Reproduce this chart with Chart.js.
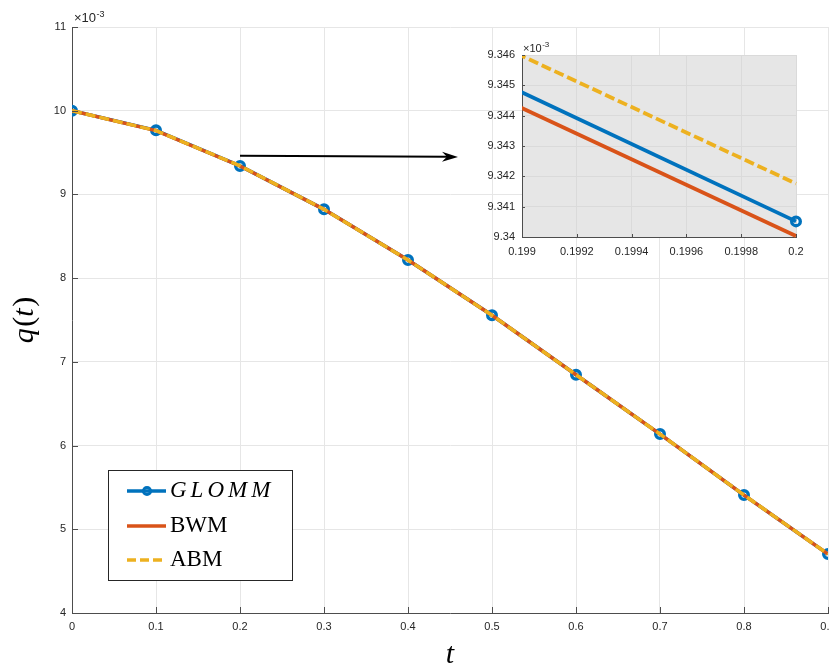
<!DOCTYPE html>
<html>
<head>
<meta charset="utf-8">
<script src="https://cdn.jsdelivr.net/npm/chart.js@4/dist/chart.umd.min.js"></script>
<style>
html,body{margin:0;padding:0;background:#ffffff;}
#wrap{position:relative;width:830px;height:666px;overflow:hidden;}
#main{position:absolute;left:0;top:0;}
#inset{position:absolute;left:470px;top:30px;}
</style>
</head>
<body>
<div id="wrap">
<canvas id="main" width="830" height="666"></canvas>
<canvas id="inset" width="340" height="240"></canvas>
</div>
<script>
// ---- data (values in units of 1e-3) ----
const tValues = [0, 0.1, 0.2, 0.3, 0.4, 0.5, 0.6, 0.7, 0.8, 0.9];
const glommValues = [10.000, 9.7657, 9.340515, 8.822, 8.216, 7.556, 6.846, 6.137, 5.409, 4.704];
const bwmValues   = [10.000, 9.7618, 9.340031, 8.822, 8.216, 7.556, 6.846, 6.137, 5.409, 4.704];
const abmValues   = [10.000, 9.7625, 9.341760, 8.822, 8.216, 7.556, 6.846, 6.137, 5.409, 4.704];
const seriesNames = ['GLOMM', 'BWM', 'ABM'];
const mainXRange = [0, 0.9];
const mainYRange = [4, 11];
const insetXRange = [0.199, 0.2];
const insetYRange = [9.34, 9.346];

const C_BLUE = '#0072BD', C_RED = '#D95319', C_YEL = '#EDB120';
const TICK_FONT = {family: '"Liberation Sans", Arial, Helvetica, sans-serif', size: 11};
const TXT = '#262626';

function pts(ys) { return tValues.map((x, i) => ({x: x, y: ys[i]})); }

function makeDatasets(clip, lw) {
  return [
    {label: seriesNames[0], data: pts(glommValues), borderColor: C_BLUE, borderWidth: lw,
     pointRadius: 4.3, pointBorderWidth: 3.4, pointBorderColor: C_BLUE,
     pointBackgroundColor: 'rgba(0,0,0,0)', order: 3, clip: clip},
    {label: seriesNames[1], data: pts(bwmValues), borderColor: C_RED, borderWidth: lw,
     pointRadius: 0, order: 2, clip: clip},
    {label: seriesNames[2], data: pts(abmValues), borderColor: C_YEL, borderWidth: lw,
     borderDash: [10, 4], pointRadius: 0, order: 1, clip: clip}
  ];
}

function inwardTicks(chart, len, color) {
  const ctx = chart.ctx, xs = chart.scales.x, ys = chart.scales.y, a = chart.chartArea;
  ctx.save();
  ctx.strokeStyle = color; ctx.lineWidth = 1;
  ctx.beginPath();
  xs.ticks.forEach(tk => {
    const px = Math.round(xs.getPixelForValue(tk.value)) + 0.5;
    ctx.moveTo(px, a.bottom); ctx.lineTo(px, a.bottom - len);
  });
  ys.ticks.forEach(tk => {
    const py = Math.round(ys.getPixelForValue(tk.value)) + 0.5;
    ctx.moveTo(a.left, py); ctx.lineTo(a.left + len, py);
  });
  ctx.stroke();
  ctx.restore();
}

function drawExponent(ctx, x, y, big, small) {
  ctx.save();
  ctx.fillStyle = TXT;
  ctx.textAlign = 'left'; ctx.textBaseline = 'alphabetic';
  ctx.font = big + 'px "Liberation Sans", Arial, sans-serif';
  ctx.fillText('\u00d710', x, y);
  const w = ctx.measureText('\u00d710').width;
  ctx.font = small + 'px "Liberation Sans", Arial, sans-serif';
  ctx.fillText('-3', x + w + 0.5, y - big * 0.42);
  ctx.restore();
}

function drawMixed(ctx, parts, cx, cy, rot, size) {
  ctx.save();
  ctx.translate(cx, cy); ctx.rotate(rot);
  ctx.fillStyle = '#000';
  ctx.textAlign = 'left'; ctx.textBaseline = 'alphabetic';
  let total = 0;
  parts.forEach(p => { ctx.font = p.f; p.w = ctx.measureText(p.s).width + (p.gap || 0); total += p.w; });
  let x = -total / 2;
  parts.forEach(p => { ctx.font = p.f; ctx.fillText(p.s, x, size * 0.25); x += p.w; });
  ctx.restore();
}

const SERIF = '"Liberation Serif", "Times New Roman", serif';

const mainDecor = {
  id: 'mainDecor',
  afterDraw(chart) {
    const ctx = chart.ctx, xs = chart.scales.x, ys = chart.scales.y;
    inwardTicks(chart, 6, '#4d4d4d');
    drawExponent(ctx, 74, 22, 13, 9);

    // arrow (annotation pointing to the zoomed inset)
    const ax0 = xs.getPixelForValue(0.2), ay0 = ys.getPixelForValue(9.462);
    const ax1 = xs.getPixelForValue(0.4595), ay1 = ys.getPixelForValue(9.448);
    const ang = Math.atan2(ay1 - ay0, ax1 - ax0);
    ctx.save();
    ctx.strokeStyle = '#000'; ctx.fillStyle = '#000'; ctx.lineWidth = 2;
    ctx.beginPath(); ctx.moveTo(ax0, ay0); ctx.lineTo(ax1 - 10 * Math.cos(ang), ay1 - 10 * Math.sin(ang)); ctx.stroke();
    ctx.translate(ax1, ay1); ctx.rotate(ang);
    ctx.beginPath();
    ctx.moveTo(0, 0); ctx.lineTo(-16, -5); ctx.lineTo(-11, 0); ctx.lineTo(-16, 5); ctx.closePath();
    ctx.fill();
    ctx.restore();

    // legend
    ctx.save();
    ctx.fillStyle = '#fff';
    ctx.fillRect(108.5, 470.5, 184, 110);
    ctx.strokeStyle = '#262626'; ctx.lineWidth = 1;
    ctx.strokeRect(108.5, 470.5, 184, 110);
    const rows = [491, 526, 560];
    // GLOMM
    ctx.lineWidth = 3.5; ctx.strokeStyle = C_BLUE;
    ctx.beginPath(); ctx.moveTo(127, rows[0]); ctx.lineTo(166, rows[0]); ctx.stroke();
    ctx.lineWidth = 3;
    ctx.beginPath(); ctx.arc(147, rows[0], 3.6, 0, Math.PI * 2); ctx.stroke();
    // BWM
    ctx.lineWidth = 3.5; ctx.strokeStyle = C_RED;
    ctx.beginPath(); ctx.moveTo(127, rows[1]); ctx.lineTo(166, rows[1]); ctx.stroke();
    // ABM
    ctx.strokeStyle = C_YEL; ctx.setLineDash([9, 4]);
    ctx.beginPath(); ctx.moveTo(127, rows[2]); ctx.lineTo(166, rows[2]); ctx.stroke();
    ctx.setLineDash([]);
    ctx.fillStyle = '#000'; ctx.textAlign = 'left'; ctx.textBaseline = 'alphabetic';
    ctx.font = 'italic 23px ' + SERIF;
    ctx.letterSpacing = '4px';
    ctx.fillText(seriesNames[0], 170, rows[0] + 5.5);
    ctx.letterSpacing = '0px';
    ctx.font = '23px ' + SERIF;
    ctx.fillText(seriesNames[1], 170, rows[1] + 5.5);
    ctx.fillText(seriesNames[2], 170, rows[2] + 5.5);
    ctx.restore();

    // axis titles
    const fs = 30;
    drawMixed(ctx, [
      {s: 'q', f: 'italic ' + fs + 'px ' + SERIF, gap: 1.5},
      {s: '(', f: fs + 'px ' + SERIF},
      {s: 't', f: 'italic ' + fs + 'px ' + SERIF, gap: 1.5},
      {s: ')', f: fs + 'px ' + SERIF}
    ], 25, (chart.chartArea.top + chart.chartArea.bottom) / 2, -Math.PI / 2, fs);
    ctx.save();
    ctx.fillStyle = '#000'; ctx.textAlign = 'center'; ctx.textBaseline = 'alphabetic';
    ctx.font = 'italic 30px ' + SERIF;
    ctx.fillText('t', (chart.chartArea.left + chart.chartArea.right) / 2, 663);
    ctx.restore();
  }
};

new Chart(document.getElementById('main'), {
  type: 'line',
  data: {datasets: makeDatasets(undefined, 3.5)},
  options: {
    responsive: false, animation: false, devicePixelRatio: 1,
    layout: {autoPadding: false, padding: {left: 0, right: 2, top: 27, bottom: 0}},
    plugins: {legend: {display: false}, tooltip: {enabled: false}},
    scales: {
      x: {
        type: 'linear', min: mainXRange[0], max: mainXRange[1],
        ticks: {stepSize: 0.1, font: TICK_FONT, color: TXT, padding: 7, maxRotation: 0, autoSkip: false,
                callback: v => String(+v.toFixed(1))},
        grid: {color: '#e6e6e6', drawTicks: false},
        border: {color: '#4d4d4d', width: 1},
        afterFit: s => { s.height = 53; s.paddingLeft = 0; s.paddingRight = 0; }
      },
      y: {
        type: 'linear', min: mainYRange[0], max: mainYRange[1],
        ticks: {stepSize: 1, font: TICK_FONT, color: TXT, padding: 6,
                callback: v => String(+v.toFixed(0))},
        grid: {color: '#e6e6e6', drawTicks: false},
        border: {color: '#4d4d4d', width: 1},
        afterFit: s => { s.width = 72; s.paddingTop = 0; s.paddingBottom = 0; }
      }
    }
  },
  plugins: [mainDecor]
});

const insetDecor = {
  id: 'insetDecor',
  beforeDraw(chart) {
    const a = chart.chartArea, ctx = chart.ctx;
    ctx.save(); ctx.fillStyle = '#e6e6e6';
    ctx.fillRect(a.left, a.top, a.right - a.left, a.bottom - a.top);
    ctx.restore();
  },
  afterDraw(chart) {
    inwardTicks(chart, 3, '#4d4d4d');
    drawExponent(chart.ctx, 53, 22, 11, 8);
  }
};

new Chart(document.getElementById('inset'), {
  type: 'line',
  data: {datasets: makeDatasets({left: 0, top: 0, right: 8, bottom: 2}, 3.8)},
  options: {
    responsive: false, animation: false, devicePixelRatio: 1,
    layout: {autoPadding: false, padding: {left: 0, right: 14, top: 25, bottom: 0}},
    plugins: {legend: {display: false}, tooltip: {enabled: false}},
    scales: {
      x: {
        type: 'linear', min: insetXRange[0], max: insetXRange[1],
        ticks: {stepSize: 0.0002, font: TICK_FONT, color: TXT, padding: 8, maxRotation: 0, autoSkip: false,
                callback: v => String(+v.toFixed(4))},
        grid: {color: '#dadada', drawTicks: false},
        border: {color: '#4d4d4d', width: 1},
        afterFit: s => { s.height = 33; s.paddingLeft = 0; s.paddingRight = 0; }
      },
      y: {
        type: 'linear', min: insetYRange[0], max: insetYRange[1],
        ticks: {stepSize: 0.001, font: TICK_FONT, color: TXT, padding: 7,
                callback: v => String(+v.toFixed(3))},
        grid: {color: '#dadada', drawTicks: false},
        border: {color: '#4d4d4d', width: 1},
        afterFit: s => { s.width = 52; s.paddingTop = 0; s.paddingBottom = 0; }
      }
    }
  },
  plugins: [insetDecor]
});
</script>
</body>
</html>
